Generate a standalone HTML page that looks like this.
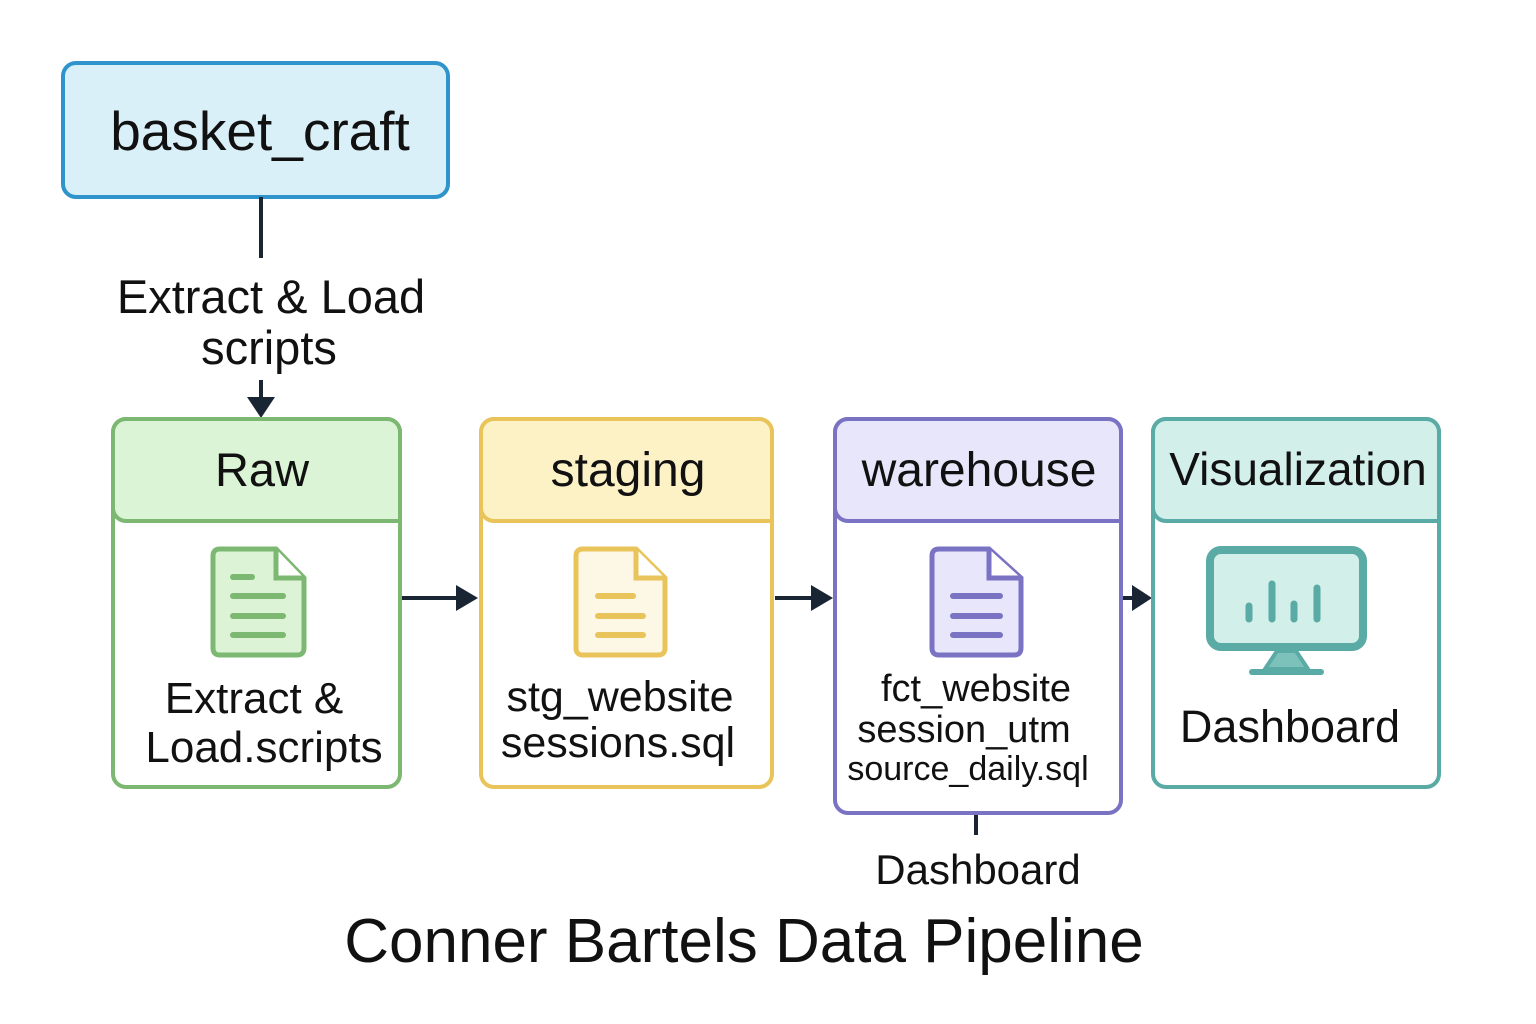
<!DOCTYPE html>
<html><head><meta charset="utf-8"><style>html,body{margin:0;padding:0;background:#fff}svg{display:block}text{font-family:"Liberation Sans",sans-serif;fill:#111}</style></head>
<body>
<svg width="1536" height="1024" viewBox="0 0 1536 1024" xmlns="http://www.w3.org/2000/svg">
<rect x="0" y="0" width="1536" height="1024" fill="#fff"/>
<rect x="63" y="63" width="385" height="134" rx="13" fill="#d9f0f9" stroke="#2f93cc" stroke-width="4"/>
<text x="260" y="150" font-size="55" text-anchor="middle">basket_craft</text>
<line x1="261" y1="197" x2="261" y2="258" stroke="#1a2533" stroke-width="4"/>
<text x="271" y="313" font-size="47" text-anchor="middle">Extract &amp; Load</text>
<text x="269" y="364" font-size="47" text-anchor="middle">scripts</text>
<line x1="261" y1="380" x2="261" y2="400" stroke="#1a2533" stroke-width="4"/>
<polygon points="247,397 275,397 261,418" fill="#1a2533"/>

<rect x="113" y="419" width="287" height="368" rx="13" fill="#fff" stroke="#7cb872" stroke-width="4"/>
<path d="M126,419 H387 A13,13 0 0 1 400,432 V521 H126 A13,13 0 0 1 113,508 V432 A13,13 0 0 1 126,419 Z" fill="#dbf4d5" stroke="#7cb872" stroke-width="4"/>
<text x="262" y="486" font-size="47" text-anchor="middle">Raw</text>
<path d="M220,549 H276 L304,578 V648 Q304,655 297,655 H220 Q213,655 213,648 V556 Q213,549 220,549 Z" fill="#dcf3d6" stroke="#7cb872" stroke-width="5"/>
<path d="M276,549 V578 H304" fill="#fff" stroke="#7cb872" stroke-width="5"/>
<g stroke="#7cb872" stroke-width="6" stroke-linecap="round"><line x1="233" y1="577" x2="252" y2="577"/><line x1="233" y1="596" x2="283" y2="596"/><line x1="233" y1="616" x2="283" y2="616"/><line x1="233" y1="635" x2="283" y2="635"/></g>
<text x="254" y="713" font-size="44" text-anchor="middle">Extract &amp;</text>
<text x="264" y="762" font-size="44" text-anchor="middle">Load.scripts</text>

<line x1="402" y1="598" x2="460" y2="598" stroke="#1a2533" stroke-width="4"/>
<polygon points="456,585 478,598 456,611" fill="#1a2533"/>

<rect x="481" y="419" width="291" height="368" rx="13" fill="#fff" stroke="#e9c45a" stroke-width="4"/>
<path d="M494,419 H759 A13,13 0 0 1 772,432 V521 H494 A13,13 0 0 1 481,508 V432 A13,13 0 0 1 494,419 Z" fill="#fdf2c6" stroke="#e9c45a" stroke-width="4"/>
<text x="628" y="486" font-size="48" text-anchor="middle">staging</text>
<path d="M583,549 H636 L665,578 V648 Q665,655 658,655 H583 Q576,655 576,648 V556 Q576,549 583,549 Z" fill="#fdf8e6" stroke="#e9c45a" stroke-width="5"/>
<path d="M636,549 V578 H665" fill="#fff" stroke="#e9c45a" stroke-width="5"/>
<g stroke="#e9c45a" stroke-width="6" stroke-linecap="round"><line x1="598" y1="596" x2="633" y2="596"/><line x1="598" y1="616" x2="643" y2="616"/><line x1="598" y1="635" x2="643" y2="635"/></g>
<text x="620" y="711" font-size="43" text-anchor="middle">stg_website</text>
<text x="618" y="757" font-size="43" text-anchor="middle">sessions.sql</text>

<line x1="775" y1="598" x2="815" y2="598" stroke="#1a2533" stroke-width="4"/>
<polygon points="811,585 833,598 811,611" fill="#1a2533"/>

<rect x="835" y="419" width="286" height="394" rx="13" fill="#fff" stroke="#7a73c3" stroke-width="4"/>
<path d="M848,419 H1108 A13,13 0 0 1 1121,432 V521 H848 A13,13 0 0 1 835,508 V432 A13,13 0 0 1 848,419 Z" fill="#e8e6fb" stroke="#7a73c3" stroke-width="4"/>
<text x="979" y="486" font-size="48" text-anchor="middle">warehouse</text>
<path d="M939,549 H989 L1021,578 V648 Q1021,655 1014,655 H939 Q932,655 932,648 V556 Q932,549 939,549 Z" fill="#e8e6fb" stroke="#7a73c3" stroke-width="5"/>
<path d="M989,549 V578 H1021" fill="#fff" stroke="#7a73c3" stroke-width="5"/>
<g stroke="#7a73c3" stroke-width="6" stroke-linecap="round"><line x1="953" y1="596" x2="1000" y2="596"/><line x1="953" y1="616" x2="1000" y2="616"/><line x1="953" y1="635" x2="1000" y2="635"/></g>
<text x="976" y="701" font-size="38" text-anchor="middle">fct_website</text>
<text x="964" y="742" font-size="38" text-anchor="middle">session_utm</text>
<text x="968" y="780" font-size="34" text-anchor="middle">source_daily.sql</text>
<line x1="976" y1="815" x2="976" y2="835" stroke="#1a2533" stroke-width="4"/>
<text x="978" y="884" font-size="42" text-anchor="middle">Dashboard</text>

<line x1="1123" y1="598" x2="1135" y2="598" stroke="#1a2533" stroke-width="4"/>
<polygon points="1132,585 1152,598 1132,611" fill="#1a2533"/>

<rect x="1153" y="419" width="286" height="368" rx="13" fill="#fff" stroke="#5aaaa5" stroke-width="4"/>
<path d="M1166,419 H1426 A13,13 0 0 1 1439,432 V521 H1166 A13,13 0 0 1 1153,508 V432 A13,13 0 0 1 1166,419 Z" fill="#d2efe9" stroke="#5aaaa5" stroke-width="4"/>
<text x="1298" y="485" font-size="46" text-anchor="middle">Visualization</text>
<rect x="1210" y="550" width="153" height="97" rx="11" fill="#d2efe9" stroke="#5aaaa5" stroke-width="8"/>
<polygon points="1277,651 1296,651 1308,669 1265,669" fill="#7cc2bb" stroke="#5aaaa5" stroke-width="4"/>
<line x1="1252" y1="672" x2="1321" y2="672" stroke="#5aaaa5" stroke-width="6" stroke-linecap="round"/>
<g stroke="#5aaaa5" stroke-width="7" stroke-linecap="round"><line x1="1249" y1="606" x2="1249" y2="619"/><line x1="1272" y1="584" x2="1272" y2="619"/><line x1="1294" y1="604" x2="1294" y2="619"/><line x1="1317" y1="588" x2="1317" y2="619"/></g>
<text x="1290" y="742" font-size="45" text-anchor="middle">Dashboard</text>

<text x="744" y="962" font-size="62" text-anchor="middle">Conner Bartels Data Pipeline</text>
</svg>
</body></html>
